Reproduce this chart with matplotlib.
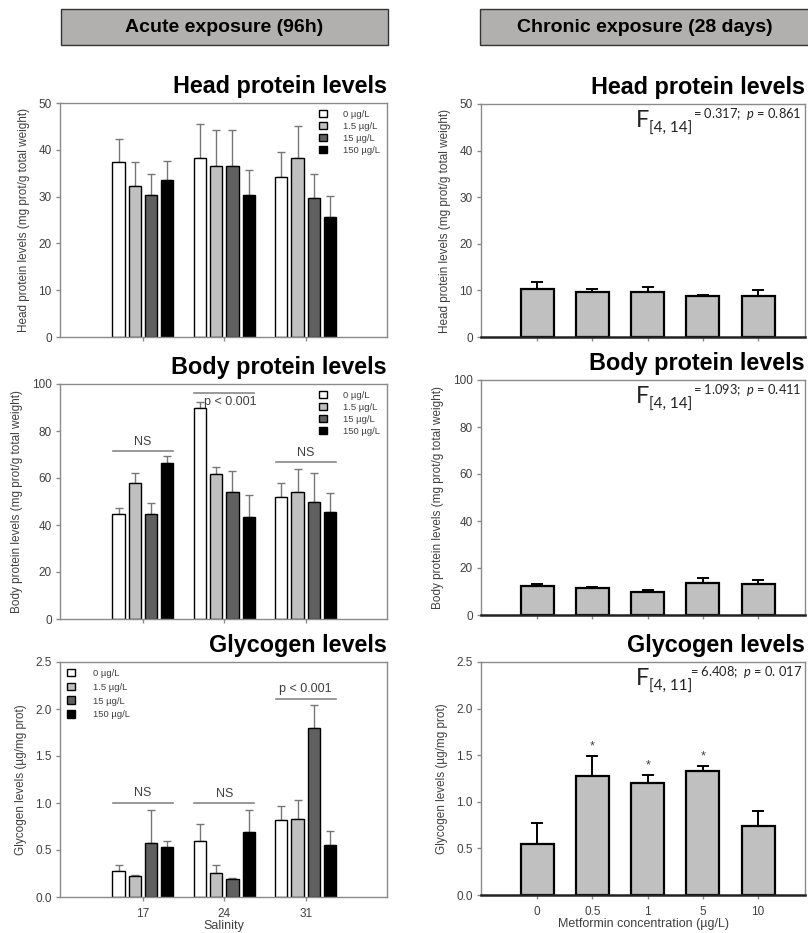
import matplotlib
matplotlib.use("Agg")
import matplotlib.pyplot as plt
import numpy as np
from matplotlib.patches import Patch, Rectangle

plt.rcParams['font.family'] = ['Liberation Sans', 'DejaVu Sans']
plt.rcParams['mathtext.fontset'] = 'custom'
plt.rcParams['mathtext.it'] = 'Lato:italic'
plt.rcParams['mathtext.rm'] = 'Lato'

# ---------------- data ----------------
salinity = ["17", "24", "31"]
conc_acute = ["0 \u00b5g/L", "1.5 \u00b5g/L", "15 \u00b5g/L", "150 \u00b5g/L"]
acute_colors = ["#ffffff", "#c0c0c0", "#606060", "#000000"]

# acute head protein: rows = concentration, cols = salinity
head_acute = [[37.3, 38.2, 34.1],
              [32.2, 36.5, 38.2],
              [30.4, 36.5, 29.8],
              [33.5, 30.4, 25.7]]
head_acute_top = [[42.3, 45.5, 39.6],
                  [37.4, 44.2, 45.0],
                  [34.8, 44.3, 34.8],
                  [37.6, 35.6, 30.1]]

body_acute = [[44.5, 89.6, 52.1],
              [57.8, 61.7, 54.0],
              [44.5, 53.9, 49.9],
              [66.3, 43.5, 45.7]]
body_acute_top = [[47.1, 92.5, 57.8],
                  [62.0, 64.6, 63.7],
                  [49.2, 62.9, 62.0],
                  [69.4, 52.6, 53.5]]

glyc_acute = [[0.277, 0.592, 0.816],
              [0.223, 0.259, 0.826],
              [0.574, 0.188, 1.798],
              [0.532, 0.695, 0.553]]
glyc_acute_top = [[0.344, 0.780, 0.965],
                  [0.238, 0.337, 1.028],
                  [0.922, 0.206, 2.039],
                  [0.592, 0.929, 0.702]]

metformin = ["0", "0.5", "1", "5", "10"]
head_chronic = [10.3, 9.7, 9.7, 8.8, 8.8]
head_chronic_top = [11.8, 10.2, 10.8, 9.1, 10.0]
body_chronic = [12.3, 11.5, 9.7, 13.6, 13.0]
body_chronic_top = [13.4, 12.0, 10.8, 15.6, 14.9]
glyc_chronic = [0.546, 1.279, 1.207, 1.329, 0.736]
glyc_chronic_top = [0.775, 1.489, 1.286, 1.382, 0.904]
glyc_signif = ["", "*", "*", "*", ""]

# significance annotations (acute): (group index, label, y-line)
body_sig = [(0, "NS", 71.3), (1, "p < 0.001", 96.0), (2, "NS", 66.6)]
glyc_sig = [(0, "NS", 1.005), (1, "NS", 0.995), (2, "p < 0.001", 2.106)]

stats_text = [("[4, 14]", "0.317", "0.861"),
              ("[4, 14]", "1.093", "0.411"),
              ("[4, 11]", "6.408", "0. 017")]

# ---------------- figure ----------------
W, H = 808, 933
fig = plt.figure(figsize=(W / 100, H / 100), dpi=100)

def ax_px(left, right, top, bottom):
    return fig.add_axes([left / W, 1 - bottom / H, (right - left) / W, (bottom - top) / H])

SP = "#8a8a8a"
TXT = "#404040"

def style_axes(ax, ymax, step, fmt):
    for s in ax.spines.values():
        s.set_color(SP)
        s.set_linewidth(1.0)
    ax.set_ylim(0, ymax)
    ticks = np.arange(0, ymax + step / 2, step)
    ax.set_yticks(ticks)
    ax.set_yticklabels([fmt.format(v) for v in ticks])
    ax.tick_params(direction='out', length=3, width=1, color=SP, labelcolor=TXT,
                   labelsize=8.5, pad=3)
    ax.tick_params(axis='x', pad=5)

# --- acute panels ---
acute_boxes = [(103, 337), (384, 619), (662, 897)]
acute_data = [(head_acute, head_acute_top, 50, 10, "{:.0f}",
               "Head protein levels (mg prot/g total weight)", "Head protein levels"),
              (body_acute, body_acute_top, 100, 20, "{:.0f}",
               "Body protein levels (mg prot/g total weight)", "Body protein levels"),
              (glyc_acute, glyc_acute_top, 2.5, 0.5, "{:.1f}",
               "Glycogen levels (\u00b5g/mg prot)", "Glycogen levels")]

width = 0.15
offsets = [-0.3, -0.1, 0.1, 0.3]
xg = np.arange(len(salinity))
acute_axes = []
for i, ((top, bot), (vals, tops, ymax, step, fmt, ylab, title)) in enumerate(zip(acute_boxes, acute_data)):
    ax = ax_px(60, 387, top, bot)
    acute_axes.append(ax)
    for k in range(4):
        v = np.array(vals[k])
        e = np.array(tops[k]) - v
        ax.bar(xg + offsets[k], v, width, color=acute_colors[k], edgecolor='black',
               linewidth=1.0, zorder=2, label=conc_acute[k])
        ax.errorbar(xg + offsets[k], v, yerr=[np.zeros_like(e), e], fmt='none',
                    ecolor='#777777', elinewidth=1.0, capsize=3, capthick=1.0, zorder=1)
    ax.set_xlim(-1.02, 3.0)
    ax.set_xticks(xg)
    style_axes(ax, ymax, step, fmt)
    ax.set_ylabel(ylab, fontsize=8.5, color=TXT, labelpad=6)
    ax.text(1.0, 1.02, title, transform=ax.transAxes, ha='right', va='bottom',
            fontsize=16.8, fontweight='bold')
    if i < 2:
        ax.set_xticklabels([])
    else:
        ax.set_xticklabels(salinity)
        ax.set_xlabel("Salinity", fontsize=9, color=TXT, labelpad=0)
    handles = [Patch(facecolor=c, edgecolor='black', linewidth=1.0) for c in acute_colors]
    if i < 2:
        leg = ax.legend(handles, conc_acute, loc='upper right', bbox_to_anchor=(1.0, 1.0),
                        frameon=False, fontsize=6.8, handlelength=0.9, handleheight=0.9,
                        handletextpad=1.7, labelspacing=0.3, borderaxespad=0.3)
    else:
        leg = ax.legend(handles, conc_acute, loc='upper left', bbox_to_anchor=(0.0, 1.0),
                        frameon=False, fontsize=6.8, handlelength=0.9, handleheight=0.9,
                        handletextpad=1.9, labelspacing=0.5, borderaxespad=0.3)
    for t in leg.get_texts():
        t.set_color(TXT)

def sig_annot(ax, sigs, dy, below_idx=None):
    for g, lab, yl in sigs:
        ax.plot([g - 0.37, g + 0.37], [yl, yl], color='#888888', lw=1.2, zorder=3)
        if below_idx == g:
            ax.text(g - 0.25, yl - dy * 0.25, lab, ha='left', va='top',
                    fontsize=9, color=TXT)
        else:
            ax.text(g, yl + dy * 0.3, lab, ha='center', va='bottom', fontsize=9, color=TXT)

sig_annot(acute_axes[1], body_sig, 5, below_idx=1)
sig_annot(acute_axes[2], glyc_sig, 0.13)

# --- chronic panels ---
chronic_boxes = [(104, 337), (380, 615), (662, 895)]
chronic_data = [(head_chronic, head_chronic_top, 50, 10, "{:.0f}",
                 "Head protein levels (mg prot/g total weight)", "Head protein levels"),
                (body_chronic, body_chronic_top, 100, 20, "{:.0f}",
                 "Body protein levels (mg prot/g total weight)", "Body protein levels"),
                (glyc_chronic, glyc_chronic_top, 2.5, 0.5, "{:.1f}",
                 "Glycogen levels (\u00b5g/mg prot)", "Glycogen levels")]
xc = np.arange(len(metformin))
chronic_axes = []
for i, ((top, bot), (vals, tops, ymax, step, fmt, ylab, title)) in enumerate(zip(chronic_boxes, chronic_data)):
    ax = ax_px(481, 805, top, bot)
    chronic_axes.append(ax)
    v = np.array(vals)
    e = np.array(tops) - v
    ax.bar(xc, v, 0.6, color='#c0c0c0', edgecolor='black', linewidth=1.6, zorder=2)
    ax.errorbar(xc, v, yerr=[np.zeros_like(e), e], fmt='none', ecolor='black',
                elinewidth=1.4, capsize=4, capthick=1.4, zorder=1)
    ax.set_xlim(-1.02, 4.85)
    ax.set_xticks(xc)
    style_axes(ax, ymax, step, fmt)
    ax.spines['bottom'].set_color('#222222')
    ax.spines['bottom'].set_linewidth(1.8)
    ax.set_ylabel(ylab, fontsize=8.5, color=TXT, labelpad=6)
    ax.text(1.0, 1.02, title, transform=ax.transAxes, ha='right', va='bottom',
            fontsize=16.8, fontweight='bold')
    if i < 2:
        ax.set_xticklabels([])
    else:
        ax.set_xticklabels(metformin)
        ax.set_xlabel("Metformin concentration (\u00b5g/L)", fontsize=9, color=TXT, labelpad=0)
        for j, s in enumerate(glyc_signif):
            if s:
                ax.text(xc[j], tops[j] + 0.04, s, ha='center', va='bottom', fontsize=9, color=TXT)

# statistics annotations (F-test), placed relative to each chronic panel's top edge
for (sub, fval, pval), (top, bot) in zip(stats_text, chronic_boxes):
    fig.text(636 / W, 1 - (top + 23) / H, "F", fontsize=17, family='Lato', color='#222222',
             ha='left', va='baseline')
    fig.text(649 / W, 1 - (top + 28.5) / H, sub, fontsize=11, family='Lato', color='#222222',
             ha='left', va='baseline')
    fig.text(802 / W, 1 - (top + 14.5) / H,
             "= " + fval + ";  $\\it{p}$ = " + pval, fontsize=9.3, family='Lato',
             color='#222222', ha='right', va='baseline')

# header boxes
for (x0, x1) in [(61, 388), (480, 830)]:
    r = Rectangle((x0 / W, 1 - 45 / H), (x1 - x0) / W, 36 / H, transform=fig.transFigure,
                  facecolor='#b2afaf', edgecolor='#333333', linewidth=1.0, clip_on=False)
    fig.patches.append(r)
fig.text(224 / W, 1 - 27 / H, "Acute exposure (96h)", ha='center', va='center',
         fontsize=14, fontweight='bold')
fig.text(645 / W, 1 - 27 / H, "Chronic exposure (28 days)", ha='center', va='center',
         fontsize=14, fontweight='bold')

fig.savefig("out.png", dpi=100)
